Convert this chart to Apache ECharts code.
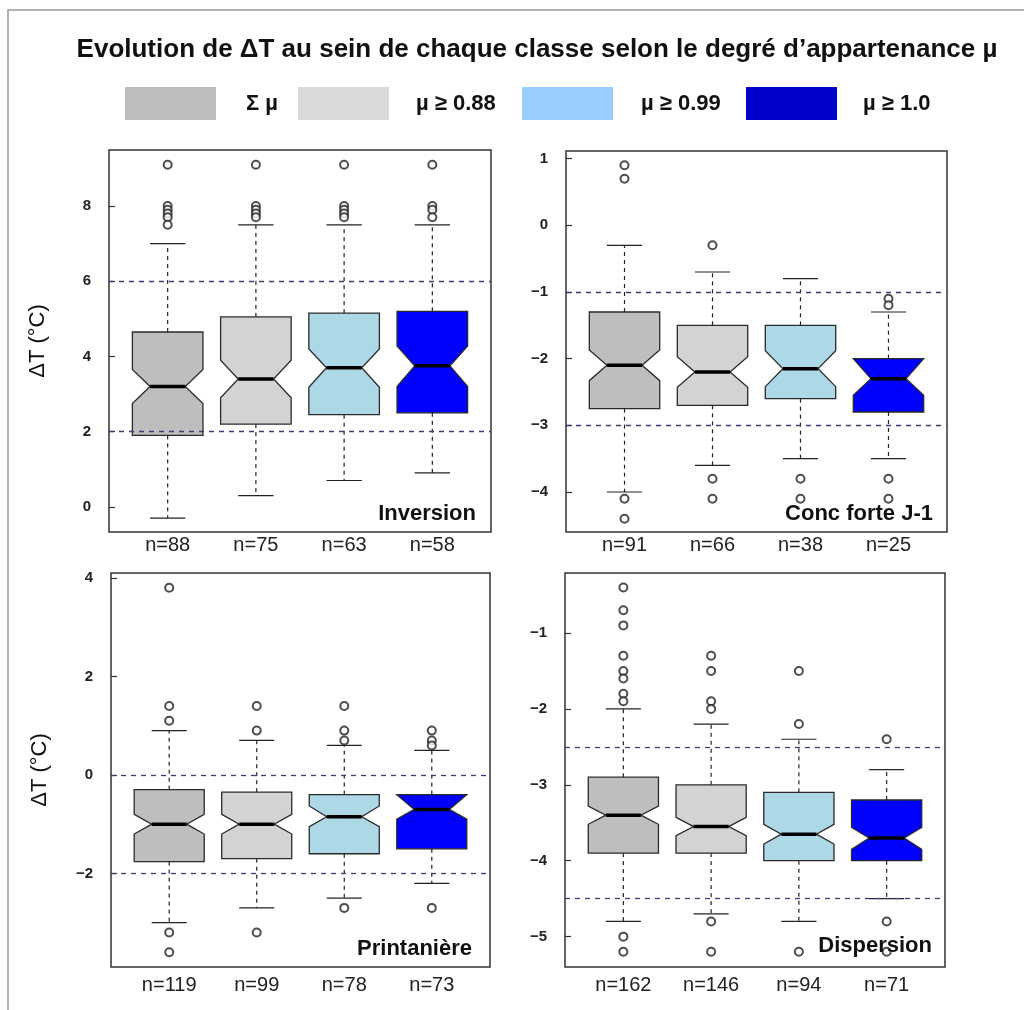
<!DOCTYPE html>
<html>
<head>
<meta charset="utf-8">
<title>Evolution de ΔT</title>
<script src="https://cdn.jsdelivr.net/npm/echarts@6/dist/echarts.min.js"></script>
<style>
  html, body { margin: 0; padding: 0; background: #fff; }
  #chart { width: 1024px; height: 1010px; }
</style>
</head>
<body>
<div id="chart"></div>
<script>
// classes (membership degree)
const classNames = ['Σ µ', 'µ ≥ 0.88', 'µ ≥ 0.99', 'µ ≥ 1.0'];
const boxColors = ['#BEBEBE', '#D3D3D3', '#ADD8E6', '#0000FF'];
const legendColors = ['#BEBEBE', '#D9D9D9', '#99CCFF', '#0000CC'];

// box stats: [low whisker, Q1, notch low, median, notch high, Q3, high whisker]
const inversionStats = [
  [-0.3, 1.9, 2.75, 3.2, 3.65, 4.65, 7.0],
  [0.3, 2.2, 2.9, 3.4, 3.9, 5.05, 7.5],
  [0.7, 2.45, 3.18, 3.7, 4.2, 5.15, 7.5],
  [0.9, 2.5, 3.2, 3.75, 4.28, 5.2, 7.5]
];
const inversionOutliers = [
  [9.1, 8.0, 7.9, 7.8, 7.7, 7.5],
  [9.1, 8.0, 7.9, 7.8, 7.7],
  [9.1, 8.0, 7.9, 7.8, 7.7],
  [9.1, 8.0, 7.9, 7.7]
];
const inversionN = [88, 75, 63, 58];
const inversionRefs = [6, 2];
const inversionTicks = [0, 2, 4, 6, 8];

const concStats = [
  [-4.0, -2.75, -2.33, -2.1, -1.87, -1.3, -0.3],
  [-3.6, -2.7, -2.43, -2.2, -1.97, -1.5, -0.7],
  [-3.5, -2.6, -2.42, -2.15, -1.88, -1.5, -0.8],
  [-3.5, -2.8, -2.55, -2.3, -2.0, -2.0, -1.3]
];
const concOutliers = [
  [0.9, 0.7, -4.1, -4.4],
  [-0.3, -3.8, -4.1],
  [-3.8, -4.1],
  [-1.1, -1.2, -3.8, -4.1]
];
const concN = [91, 66, 38, 25];
const concRefs = [-1, -3];
const concTicks = [1, 0, -1, -2, -3, -4];

const printStats = [
  [-3.0, -1.76, -1.2, -1.0, -0.8, -0.3, 0.9],
  [-2.7, -1.7, -1.2, -1.0, -0.8, -0.35, 0.7],
  [-2.5, -1.6, -1.05, -0.85, -0.63, -0.4, 0.6],
  [-2.2, -1.5, -0.9, -0.7, -0.4, -0.4, 0.5]
];
const printOutliers = [
  [3.8, 1.4, 1.1, -3.2, -3.6],
  [1.4, 0.9, -3.2],
  [1.4, 0.9, 0.7, -2.7],
  [0.9, 0.7, 0.6, -2.7]
];
const printN = [119, 99, 78, 73];
const printRefs = [0, -2];
const printTicks = [4, 2, 0, -2];

const dispStats = [
  [-4.8, -3.9, -3.52, -3.4, -3.28, -2.9, -2.0],
  [-4.7, -3.9, -3.67, -3.55, -3.43, -3.0, -2.2],
  [-4.8, -4.0, -3.78, -3.65, -3.52, -3.1, -2.4],
  [-4.5, -4.0, -3.85, -3.7, -3.56, -3.2, -2.8]
];
const dispOutliers = [
  [-0.4, -0.7, -0.9, -1.3, -1.5, -1.6, -1.8, -1.9, -5.0, -5.2],
  [-1.3, -1.5, -1.9, -2.0, -4.8, -5.2],
  [-1.5, -2.2, -5.2],
  [-2.4, -4.8, -5.2]
];
const dispN = [162, 146, 94, 71];
const dispRefs = [-2.5, -4.5];
const dispTicks = [-1, -2, -3, -4, -5];

const panels = [
  { label: 'Inversion', stats: inversionStats, outliers: inversionOutliers, n: inversionN, refs: inversionRefs, ticks: inversionTicks,
    grid: { left: 109, top: 150, width: 382, height: 382 }, yMin: -0.67, yMax: 9.49, yName: 'ΔT (°C)', nMargin: 3, labelPos: [471, 498] },
  { label: 'Conc forte J-1', stats: concStats, outliers: concOutliers, n: concN, refs: concRefs, ticks: concTicks,
    grid: { left: 566, top: 151, width: 381, height: 381 }, yMin: -4.6, yMax: 1.115, yName: '', nMargin: 3, labelPos: [928, 498] },
  { label: 'Printanière', stats: printStats, outliers: printOutliers, n: printN, refs: printRefs, ticks: printTicks,
    grid: { left: 111, top: 573, width: 379, height: 394 }, yMin: -3.9, yMax: 4.1, yName: 'ΔT (°C)', nMargin: 8, labelPos: [467, 933] },
  { label: 'Dispersion', stats: dispStats, outliers: dispOutliers, n: dispN, refs: dispRefs, ticks: dispTicks,
    grid: { left: 565, top: 573, width: 380, height: 394 }, yMin: -5.4, yMax: -0.21, yName: '', nMargin: 8, labelPos: [927, 930] }
];

const FONT = 'Liberation Sans, Arial, sans-serif';
const BOX_W = 0.8;

function renderNotchedBox(params, api) {
  const x = api.value(0);
  const v = [1, 2, 3, 4, 5, 6, 7].map(i => api.value(i));
  const [low, q1, nLow, med, nHigh, q3, high] = v;
  const h = BOX_W / 2;
  const c = (xx, yy) => api.coord([xx, yy]);
  const pts = [
    c(x - h, q1), c(x - h, nLow), c(x - h / 2, med), c(x - h, nHigh), c(x - h, q3),
    c(x + h, q3), c(x + h, nHigh), c(x + h / 2, med), c(x + h, nLow), c(x + h, q1)
  ];
  const color = api.visual('color');
  const dash = { stroke: '#222', lineWidth: 1.2, lineDash: [4, 4] };
  const solid = { stroke: '#222', lineWidth: 1.2 };
  const line = (a, b, style) => ({ type: 'line', shape: { x1: a[0], y1: a[1], x2: b[0], y2: b[1] }, style: style });
  return {
    type: 'group',
    children: [
      line(c(x, q3), c(x, high), dash),
      line(c(x, q1), c(x, low), dash),
      line(c(x - h / 2, high), c(x + h / 2, high), solid),
      line(c(x - h / 2, low), c(x + h / 2, low), solid),
      { type: 'polygon', shape: { points: pts }, style: { fill: color, stroke: '#2a2a2a', lineWidth: 1.3 } },
      line(c(x - h / 2, med), c(x + h / 2, med), { stroke: '#000', lineWidth: 3.5 })
    ]
  };
}

const grids = [], xAxes = [], yAxes = [], series = [], titles = [];

titles.push({
  text: 'Evolution de ΔT au sein de chaque classe selon le degré d’appartenance µ',
  left: 532, top: 32, textAlign: 'center',
  textStyle: { fontFamily: FONT, fontSize: 26, fontWeight: 'bold', color: '#111' }
});

panels.forEach((p, gi) => {
  grids.push(Object.assign({ show: true, borderColor: '#333', borderWidth: 1.5, backgroundColor: '#fff' }, p.grid));
  xAxes.push({
    gridIndex: gi, type: 'value', min: 0.335, max: 4.665,
    axisLine: { show: false }, axisTick: { show: false }, splitLine: { show: false },
    axisLabel: {
      customValues: [1, 2, 3, 4], margin: p.nMargin,
      formatter: v => 'n=' + p.n[Math.round(v) - 1],
      fontFamily: FONT, fontSize: 20, color: '#222'
    }
  });
  yAxes.push({
    gridIndex: gi, type: 'value', min: p.yMin, max: p.yMax,
    name: p.yName, nameLocation: 'middle', nameGap: 60, nameRotate: 90,
    nameTextStyle: { fontFamily: FONT, fontSize: 22, color: '#111' },
    axisLine: { show: false }, splitLine: { show: false },
    axisTick: { show: true, inside: true, length: 6, customValues: p.ticks, lineStyle: { color: '#333', width: 1.2 } },
    axisLabel: {
      customValues: p.ticks, margin: 18,
      formatter: v => String(v).replace('-', '\u2212'),
      fontFamily: FONT, fontSize: 15, fontWeight: 'bold', color: '#222'
    }
  });

  p.stats.forEach((s, ci) => {
    series.push({
      name: classNames[ci], type: 'custom', xAxisIndex: gi, yAxisIndex: gi,
      itemStyle: { color: boxColors[ci] },
      renderItem: renderNotchedBox,
      encode: { x: 0, y: [1, 2, 3, 4, 5, 6, 7] },
      data: [[ci + 1].concat(s)],
      z: 3
    });
  });

  const outPts = [];
  p.outliers.forEach((arr, ci) => arr.forEach(v => outPts.push([ci + 1, v])));
  series.push({
    name: 'outliers', type: 'scatter', xAxisIndex: gi, yAxisIndex: gi,
    symbol: 'emptyCircle', symbolSize: 8,
    itemStyle: { color: '#222', borderWidth: 1.3 },
    data: outPts, z: 4,
    markLine: {
      silent: true, symbol: ['none', 'none'], label: { show: false },
      lineStyle: { type: [5, 5], color: '#3c3c78', width: 1.3 },
      data: p.refs.map(r => ({ yAxis: r }))
    }
  });

  titles.push({
    text: p.label, left: p.labelPos[0], top: p.labelPos[1], textAlign: 'right',
    textStyle: { fontFamily: FONT, fontSize: 22, fontWeight: 'bold', color: '#111' }
  });
});

const legendLeft = [120, 293, 517, 741];
const legendPad = [25, 22, 23, 21];
const legends = classNames.map((name, i) => ({
  left: legendLeft[i], top: 82, orient: 'horizontal',
  itemWidth: 91, itemHeight: 33, icon: 'rect', selectedMode: false,
  data: [{ name: name, itemStyle: { color: legendColors[i], borderWidth: 0 } }],
  textStyle: { fontFamily: FONT, fontSize: 22, fontWeight: 'bold', color: '#111', padding: [0, 0, 0, legendPad[i]] }
}));

const chart = echarts.init(document.getElementById('chart'));
chart.setOption({
  animation: false,
  backgroundColor: '#fff',
  title: titles,
  legend: legends,
  grid: grids,
  xAxis: xAxes,
  yAxis: yAxes,
  series: series,
  graphic: [{
    type: 'polyline', silent: true,
    shape: { points: [[8, 1010], [8, 10], [1024, 10]] },
    style: { stroke: '#999', lineWidth: 1.5, fill: null }
  }]
});
</script>
</body>
</html>
